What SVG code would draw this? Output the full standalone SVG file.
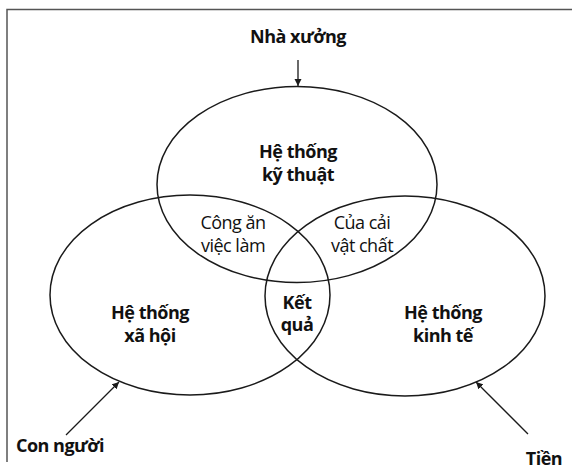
<svg xmlns="http://www.w3.org/2000/svg" width="572" height="470" viewBox="0 0 572 470">
  <style>
    .ring { fill: none; stroke: #1a1a1a; stroke-width: 1.5; }
    .frame { fill: none; stroke: #555; stroke-width: 1.5; }
    .link { stroke: #1a1a1a; stroke-width: 1.3; fill: none; marker-end: url(#tip); }
    text { font-family: "Open Sans", "Noto Sans", "DejaVu Sans", sans-serif; fill: #111; text-anchor: middle; }
    .b { font-weight: 700; font-size: 18px; letter-spacing: -0.5px; }
    .r { font-weight: 400; font-size: 18px; letter-spacing: -0.5px; }
  </style>
  <defs>
    <marker id="tip" viewBox="0 0 10 10" refX="10" refY="5" markerWidth="7" markerHeight="8" markerUnits="userSpaceOnUse" orient="auto">
      <path d="M0,0 L10,5 L0,10 z" fill="#1a1a1a"/>
    </marker>
  </defs>

  <rect width="572" height="470" fill="#fff"/>
  <!-- open frame: top and left edges -->
  <path class="frame" d="M7,462 V9.5 H572"/>

  <g id="technical">
    <ellipse class="ring" cx="297" cy="184.5" rx="140" ry="98"/>
    <text class="b" x="298" y="158">Hệ thống</text>
    <text class="b" x="298" y="181">kỹ thuật</text>
  </g>
  <g id="social">
    <ellipse class="ring" cx="190" cy="295" rx="140" ry="100"/>
    <text class="b" x="150" y="319">Hệ thống</text>
    <text class="b" x="150" y="342">xã hội</text>
  </g>
  <g id="economic">
    <ellipse class="ring" cx="405" cy="296" rx="140" ry="100"/>
    <text class="b" x="443" y="319">Hệ thống</text>
    <text class="b" x="443" y="342">kinh tế</text>
  </g>
  <g id="jobs">
    <text class="r" x="233" y="229">Công ăn</text>
    <text class="r" x="233" y="252">việc làm</text>
  </g>
  <g id="wealth">
    <text class="r" x="362" y="229">Của cải</text>
    <text class="r" x="362" y="252">vật chất</text>
  </g>
  <g id="result">
    <text class="b" x="297" y="309">Kết</text>
    <text class="b" x="297" y="331">quả</text>
  </g>
  <g id="factory">
    <text class="b" x="298" y="43">Nhà xưởng</text>
  </g>
  <g id="people">
    <text class="b" x="16" y="452" style="text-anchor:start">Con người</text>
  </g>
  <g id="money">
    <text class="b" x="544" y="465">Tiền</text>
  </g>

  <g id="connectors">
    <line class="link" x1="298" y1="60" x2="298" y2="86"/>
    <line class="link" x1="66" y1="435" x2="119" y2="382"/>
    <line class="link" x1="528" y1="434" x2="476" y2="382"/>
  </g>
</svg>
